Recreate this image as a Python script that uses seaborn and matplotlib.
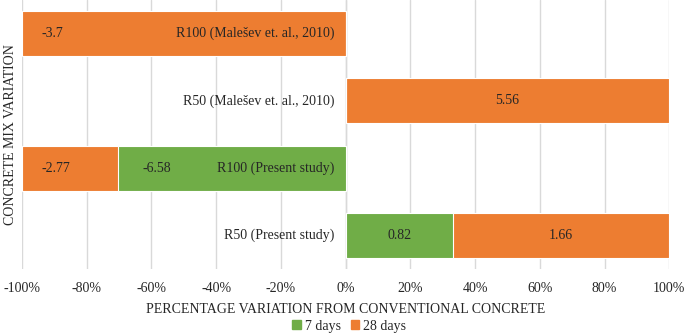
import numpy as np
import pandas as pd
import matplotlib.pyplot as plt
import seaborn as sns
from matplotlib.patches import Patch
from matplotlib.ticker import PercentFormatter

# categories listed top to bottom
categories = ["R100 (Malešev et. al., 2010)",
              "R50 (Malešev et. al., 2010)",
              "R100 (Present study)",
              "R50 (Present study)"]
days7 = [0.0, 0.0, -6.58, 0.82]
days28 = [-3.7, 5.56, -2.77, 1.66]
x_ticks = [-1.0, -0.8, -0.6, -0.4, -0.2, 0.0, 0.2, 0.4, 0.6, 0.8, 1.0]

GREEN = "#70AD47"
ORANGE = "#ED7D31"

sns.set_style("white")
plt.rcParams["font.family"] = ["Liberation Serif", "DejaVu Serif"]
plt.rcParams["font.size"] = 10
plt.rcParams["axes.unicode_minus"] = False

# 100% stacked shares
d7 = np.array(days7)
d28 = np.array(days28)
tot = d7 + d28
df = pd.DataFrame({
    "Mix": categories,
    "share7": d7 / np.abs(tot),
    "total": tot / np.abs(tot),
})

fig = plt.figure(figsize=(6.85, 3.35), dpi=100)
ax = fig.add_axes([0.032, 0.197, 0.945, 0.803])

# orange drawn full length, green laid over it from zero
sns.barplot(data=df, y="Mix", x="total", order=categories, color=ORANGE,
            width=0.67, saturation=1, edgecolor="white", linewidth=0.8,
            orient="h", ax=ax, zorder=2)
sns.barplot(data=df, y="Mix", x="share7", order=categories, color=GREEN,
            width=0.67, saturation=1, edgecolor="white", linewidth=0.8,
            orient="h", ax=ax, zorder=3)

ax.set_xlim(-1.0, 1.0)
ax.set_xticks(x_ticks)
ax.xaxis.set_major_formatter(PercentFormatter(1.0, decimals=0))
ax.grid(axis="x", color="#D9D9D9", linewidth=1.0, zorder=0)
ax.set_axisbelow(True)
ax.axvline(0, color="#D9D9D9", linewidth=1.0, zorder=1)
for s in ax.spines.values():
    s.set_visible(False)
ax.tick_params(axis="x", length=0, pad=9, labelsize=10)
ax.set_yticks(range(len(categories)))
ax.set_yticklabels([])
ax.tick_params(axis="y", length=0)
ax.set_ylabel("")
ax.set_xlabel("PERCENTAGE VARIATION FROM CONVENTIONAL CONCRETE", fontsize=10, labelpad=6)

# category names sit next to the zero line
for i, name in enumerate(categories):
    ax.text(-0.035, i, name, ha="right", va="center", fontsize=10, zorder=5)

# data labels
pad = 0.075
for i in range(len(categories)):
    s7 = df["share7"].iloc[i]
    st = df["total"].iloc[i]
    if d7[i] != 0:
        if s7 > 0:
            ax.text(s7 / 2, i, f"{days7[i]:g}", ha="center", va="center", zorder=5)
        else:
            ax.text(s7 + pad, i, f"{days7[i]:g}", ha="left", va="center", zorder=5)
    if d28[i] != 0:
        if st > 0:
            ax.text((s7 + st) / 2, i, f"{days28[i]:g}", ha="center", va="center", zorder=5)
        else:
            ax.text(st + pad * 0.8, i, f"{days28[i]:g}", ha="left", va="center", zorder=5)

fig.text(0.016, 1 - 135 / 335, "CONCRETE MIX VARIATION", rotation=90,
         ha="center", va="center", fontsize=10)

handles = [Patch(color=GREEN, label="7 days"), Patch(color=ORANGE, label="28 days")]
fig.legend(handles=handles, loc="lower center", bbox_to_anchor=(0.51, -0.03),
           ncol=2, frameon=False, fontsize=10, handlelength=0.6, handleheight=0.6,
           handletextpad=0.3, columnspacing=0.7)

fig.savefig("out.png", dpi=100)
